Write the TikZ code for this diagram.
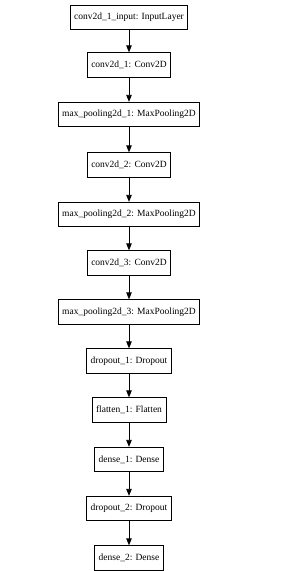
\documentclass[tikz,border=0pt]{standalone}
\usepackage{fontspec}
\setmainfont{Liberation Serif}
\usetikzlibrary{arrows.meta}
\begin{document}
\begin{tikzpicture}[x=1pt,y=1pt,
  layer/.style={draw=black, line width=0.8pt, rectangle, minimum height=24.5pt, inner xsep=4pt, inner ysep=0pt, font=\fontsize{9.5}{11}\selectfont},
  conn/.style={draw=black, line width=0.8pt, -{Triangle[length=7pt,width=5.5pt]}}]
\useasboundingbox (0,0) rectangle (289,-571);
\node[layer] (n1) at (129,-17.5) {conv2d\_1\_input: InputLayer};
\node[layer] (n2) at (129,-65) {conv2d\_1: Conv2D};
\node[layer] (n3) at (129,-114.5) {max\_pooling2d\_1: MaxPooling2D};
\node[layer] (n4) at (129,-165) {conv2d\_2: Conv2D};
\node[layer] (n5) at (129,-214.5) {max\_pooling2d\_2: MaxPooling2D};
\node[layer] (n6) at (129,-263) {conv2d\_3: Conv2D};
\node[layer] (n7) at (129,-312) {max\_pooling2d\_3: MaxPooling2D};
\node[layer] (n8) at (129,-361) {dropout\_1: Dropout};
\node[layer] (n9) at (129,-410) {flatten\_1: Flatten};
\node[layer] (n10) at (129,-459.5) {dense\_1: Dense};
\node[layer] (n11) at (129,-508.5) {dropout\_2: Dropout};
\node[layer] (n12) at (129,-558) {dense\_2: Dense};
\foreach \a/\b in {n1/n2,n2/n3,n3/n4,n4/n5,n5/n6,n6/n7,n7/n8,n8/n9,n9/n10,n10/n11,n11/n12}
  \draw[conn] (\a) -- (\b);
\end{tikzpicture}
\end{document}
